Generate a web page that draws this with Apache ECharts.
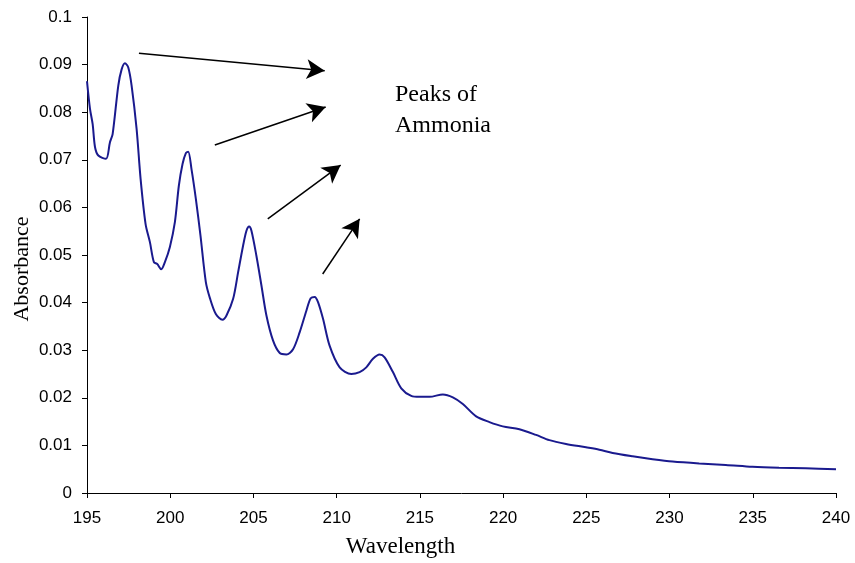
<!DOCTYPE html>
<html>
<head>
<meta charset="utf-8">
<script src="https://cdn.jsdelivr.net/npm/echarts@6/dist/echarts.min.js"></script>
<style>
  html, body { margin: 0; padding: 0; background: #fff; }
  #chart { width: 855px; height: 563px; }
</style>
</head>
<body>
<div id="chart"></div>
<script>
// Absorbance spectrum, 195–240 nm
const wavelength = [
  195.0, 195.18, 195.34, 195.48, 195.68, 196.14, 196.38, 196.54, 196.88, 197.08,
  197.28, 197.48, 197.68, 197.98, 198.22, 198.52, 198.78, 199.02, 199.22, 199.46,
  199.68, 199.98, 200.28, 200.52, 200.74, 200.94, 201.08, 201.28, 201.54, 201.82,
  202.14, 202.38, 202.74, 203.14, 203.38, 203.78, 204.08, 204.38, 204.58, 204.74,
  204.88, 205.18, 205.48, 205.78, 206.18, 206.58, 206.98, 207.38, 207.78, 208.18,
  208.44, 208.68, 208.88, 209.18, 209.58, 210.18, 210.88, 211.38, 211.78, 212.18,
  212.58, 212.88, 213.38, 213.88, 214.48, 214.98, 215.58, 216.38, 216.98, 217.58,
  218.38, 219.18, 219.98, 220.98, 221.98, 222.78, 223.78, 224.98, 225.78, 226.58,
  227.78, 228.98, 230.18, 231.78, 233.38, 234.98, 236.58, 238.18, 240.0
];
const absorbance = [
  0.0865, 0.0807, 0.0775, 0.0727, 0.0709, 0.0702, 0.0737, 0.0754, 0.0856, 0.0890,
  0.0903, 0.0894, 0.0856, 0.0765, 0.0660, 0.0565, 0.0527, 0.0485, 0.0481, 0.0470,
  0.0485, 0.0517, 0.0569, 0.0646, 0.0691, 0.0714, 0.0717, 0.0680, 0.0618, 0.0540,
  0.0443, 0.0410, 0.0376, 0.0364, 0.0373, 0.0408, 0.0464, 0.0520, 0.0551, 0.0560,
  0.0551, 0.0498, 0.0436, 0.0373, 0.0320, 0.0294, 0.0291, 0.0302, 0.0338, 0.0383,
  0.0409, 0.0412, 0.0401, 0.0366, 0.0309, 0.0264, 0.0250, 0.0254, 0.0264, 0.0282,
  0.0291, 0.0285, 0.0254, 0.0220, 0.0204, 0.0202, 0.0202, 0.0207, 0.0201, 0.0187,
  0.0161, 0.0149, 0.0140, 0.0134, 0.0122, 0.0111, 0.0103, 0.0096, 0.0091, 0.0084,
  0.0077, 0.0071, 0.0066, 0.0062, 0.0059, 0.0055, 0.0053, 0.0052, 0.0050
];

// Arrows pointing from the peaks toward the annotation text: [x1, y1, x2, y2]
const peakArrows = [
  [198.12, 0.0924, 209.28, 0.0887],
  [202.68, 0.0731, 209.34, 0.0811],
  [205.86, 0.0576, 210.24, 0.0689],
  [209.16, 0.0460, 211.38, 0.0576]
];

const xTicks = { min: 195, max: 240, step: 5 };
const yTicks = { min: 0, max: 0.1, step: 0.01 };

const chart = echarts.init(document.getElementById('chart'), null, { renderer: 'canvas' });

const serif = '"Liberation Serif", "Times New Roman", serif';
const sans = '"Liberation Sans", Arial, sans-serif';

chart.setOption({
  animation: false,
  backgroundColor: '#ffffff',
  grid: { left: 87, right: 19, top: 17, bottom: 68, containLabel: false },
  xAxis: {
    type: 'value',
    min: xTicks.min, max: xTicks.max, interval: xTicks.step,
    name: 'Wavelength',
    nameLocation: 'middle',
    nameGap: 42,
    nameTextStyle: { fontFamily: serif, fontSize: 23, color: '#000', padding: [0, 122, 0, 0] },
    axisLine: { lineStyle: { color: '#000', width: 1 } },
    axisTick: { show: true, length: 5, lineStyle: { color: '#000' } },
    axisLabel: { fontFamily: sans, fontSize: 17, color: '#000', margin: 17 },
    splitLine: { show: false }
  },
  yAxis: {
    type: 'value',
    min: yTicks.min, max: yTicks.max, interval: yTicks.step,
    name: 'Absorbance',
    nameLocation: 'middle',
    nameGap: 54,
    nameMoveOverlap: false,
    nameRotate: 90,
    nameTextStyle: { fontFamily: serif, fontSize: 22, color: '#000', padding: [0, 28, 0, 0] },
    axisLine: { show: true, lineStyle: { color: '#000', width: 1 } },
    axisTick: { show: true, length: 5, lineStyle: { color: '#000' } },
    axisLabel: {
      fontFamily: sans, fontSize: 17, color: '#000', margin: 15,
      formatter: v => String(+v.toFixed(2))
    },
    splitLine: { show: false }
  },
  series: [{
    type: 'line',
    data: wavelength.map((w, i) => [w, absorbance[i]]),
    showSymbol: false,
    smooth: 0.3,
    lineStyle: { color: '#1a1a8e', width: 2 },
    markLine: {
      silent: true,
      symbol: ['none', 'arrow'],
      symbolSize: [15, 18],
      label: { show: false },
      lineStyle: { color: '#000', width: 1.5, type: 'solid' },
      itemStyle: { color: '#000' },
      data: peakArrows.map(a => [
        { coord: [a[0], a[1]] },
        { coord: [a[2], a[3]] }
      ])
    }
  }],
  graphic: [{
    type: 'text',
    left: 395,
    top: 79,
    style: {
      text: 'Peaks of\nAmmonia',
      font: '24px ' + serif,
      fill: '#000',
      lineHeight: 31
    }
  }]
});
</script>
</body>
</html>
